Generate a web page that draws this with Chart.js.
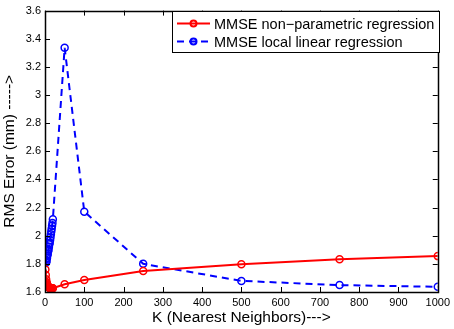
<!DOCTYPE html>
<html>
<head>
<meta charset="utf-8">
<script src="https://cdn.jsdelivr.net/npm/chart.js@4/dist/chart.umd.min.js"></script>
<style>
  html, body { margin: 0; padding: 0; background: #fff; }
  #wrap { width: 454px; height: 329px; }
</style>
</head>
<body>
<div id="wrap"><canvas id="myChart" width="454" height="329"></canvas></div>
<script>
// K values (number of nearest neighbors)
const kValues = [1, 2, 3, 4, 5, 6, 7, 8, 9, 10, 11, 12, 13, 14, 15, 16, 17, 18, 19, 20, 50, 100, 250, 500, 750, 1000];

// RMS error (mm)
const nonParametric = [1.76, 1.72, 1.69, 1.67, 1.66, 1.65, 1.645, 1.64, 1.635, 1.632, 1.63, 1.628, 1.627, 1.626, 1.625, 1.625, 1.625, 1.626, 1.626, 1.627,
                       1.655, 1.685, 1.75, 1.797, 1.832, 1.855];
const localLinear = [1.90, 1.83, 1.81, 1.82, 1.84, 1.86, 1.87, 1.89, 1.90, 1.92, 1.94, 1.95, 1.97, 1.99, 2.01, 2.03, 2.05, 2.07, 2.09, 2.117,
                     3.336, 2.171, 1.80, 1.679, 1.649, 1.637];

const xTicks = [0, 100, 200, 300, 400, 500, 600, 700, 800, 900, 1000];
const yTicks = [1.6, 1.8, 2, 2.2, 2.4, 2.6, 2.8, 3, 3.2, 3.4, 3.6];

const seriesNames = ['MMSE non\u2212parametric regression', 'MMSE local linear regression'];

const FONT = 'Arial, "Liberation Sans", Helvetica, sans-serif';

function toPoints(ys) {
    return kValues.map((k, i) => ({ x: k, y: ys[i] }));
}

// MATLAB style box with inward ticks plus the boxed legend
const matlabBox = {
    id: 'matlabBox',
    afterDatasetsDraw(chart) {
        const { ctx, chartArea: a, scales } = chart;
        const t = 5;
        ctx.save();
        ctx.strokeStyle = '#000';
        ctx.lineWidth = 1;
        ctx.beginPath();
        xTicks.forEach(v => {
            const x = Math.round(scales.x.getPixelForValue(v)) + 0.5;
            ctx.moveTo(x, a.bottom); ctx.lineTo(x, a.bottom - t);
            ctx.moveTo(x, a.top); ctx.lineTo(x, a.top + t);
        });
        yTicks.forEach(v => {
            const y = Math.round(scales.y.getPixelForValue(v)) + 0.5;
            ctx.moveTo(a.left, y); ctx.lineTo(a.left + t, y);
            ctx.moveTo(a.right, y); ctx.lineTo(a.right - t, y);
        });
        ctx.stroke();
        ctx.lineWidth = 1.5;
        ctx.strokeRect(Math.round(a.left) + 0.5, Math.round(a.top) + 0.5, Math.round(a.right - a.left), Math.round(a.bottom - a.top));

        // legend
        const bx = 172.5, by = 11.5, bw = 267, bh = 41;
        ctx.fillStyle = '#fff';
        ctx.fillRect(bx, by, bw, bh);
        ctx.lineWidth = 1;
        ctx.strokeRect(bx, by, bw, bh);
        chart.data.datasets.forEach((ds, i) => {
            const y = by + 12 + i * 18;
            ctx.strokeStyle = ds.borderColor;
            ctx.lineWidth = 2;
            ctx.setLineDash(ds.borderDash || []);
            ctx.beginPath();
            ctx.moveTo(177, y); ctx.lineTo(210, y);
            ctx.stroke();
            ctx.setLineDash([]);
            ctx.beginPath();
            ctx.arc(193.5, y, 3, 0, Math.PI * 2);
            ctx.stroke();
            ctx.fillStyle = '#000';
            ctx.font = '14.5px ' + FONT;
            ctx.textBaseline = 'middle';
            ctx.textAlign = 'left';
            ctx.fillText(seriesNames[i], 214, y + 1);
        });
        ctx.restore();
    }
};

const ctx = document.getElementById('myChart').getContext('2d');
const chart = new Chart(ctx, {
    type: 'scatter',
    data: {
        datasets: [
            {
                label: seriesNames[0],
                data: toPoints(nonParametric),
                showLine: true,
                borderColor: 'rgb(255, 0, 0)',
                backgroundColor: 'rgba(0,0,0,0)',
                borderWidth: 2,
                pointRadius: 3.5,
                pointBorderWidth: 1.5,
                pointBorderColor: 'rgb(255, 0, 0)',
                pointBackgroundColor: 'rgba(0,0,0,0)'
            },
            {
                label: seriesNames[1],
                data: toPoints(localLinear),
                showLine: true,
                borderColor: 'rgb(0, 0, 255)',
                backgroundColor: 'rgba(0,0,0,0)',
                borderWidth: 2,
                borderDash: [7, 5],
                pointRadius: 3.5,
                pointBorderWidth: 1.5,
                pointBorderColor: 'rgb(0, 0, 255)',
                pointBackgroundColor: 'rgba(0,0,0,0)'
            }
        ]
    },
    options: {
        responsive: false,
        animation: false,
        layout: { padding: { left: 0, right: 11, top: 7, bottom: 0 } },
        plugins: {
            legend: { display: false },
            tooltip: { enabled: false }
        },
        scales: {
            x: {
                type: 'linear',
                min: 0,
                max: 1000,
                afterBuildTicks: s => { s.ticks = xTicks.map(v => ({ value: v })); },
                afterFit: s => { s.height = 37; },
                grid: { display: false, drawTicks: false },
                border: { display: false },
                ticks: {
                    color: '#000',
                    padding: 4,
                    maxRotation: 0,
                    font: { family: FONT, size: 11 },
                    callback: v => String(v)
                },
                title: {
                    display: true,
                    text: 'K (Nearest Neighbors)--->',
                    color: '#000',
                    padding: { top: 0, bottom: 2 },
                    font: { family: FONT, size: 15.5 }
                }
            },
            y: {
                type: 'linear',
                min: 1.6,
                max: 3.6,
                afterBuildTicks: s => { s.ticks = yTicks.map(v => ({ value: v })); },
                afterFit: s => { s.width = 45; },
                grid: { display: false, drawTicks: false },
                border: { display: false },
                ticks: {
                    color: '#000',
                    padding: 4,
                    font: { family: FONT, size: 11 },
                    callback: v => String(+v.toFixed(1))
                },
                title: {
                    display: true,
                    text: 'RMS Error (mm) ----->',
                    color: '#000',
                    padding: { top: 0, bottom: 0 },
                    font: { family: FONT, size: 15.5 }
                }
            }
        }
    },
    plugins: [matlabBox]
});
</script>
</body>
</html>
